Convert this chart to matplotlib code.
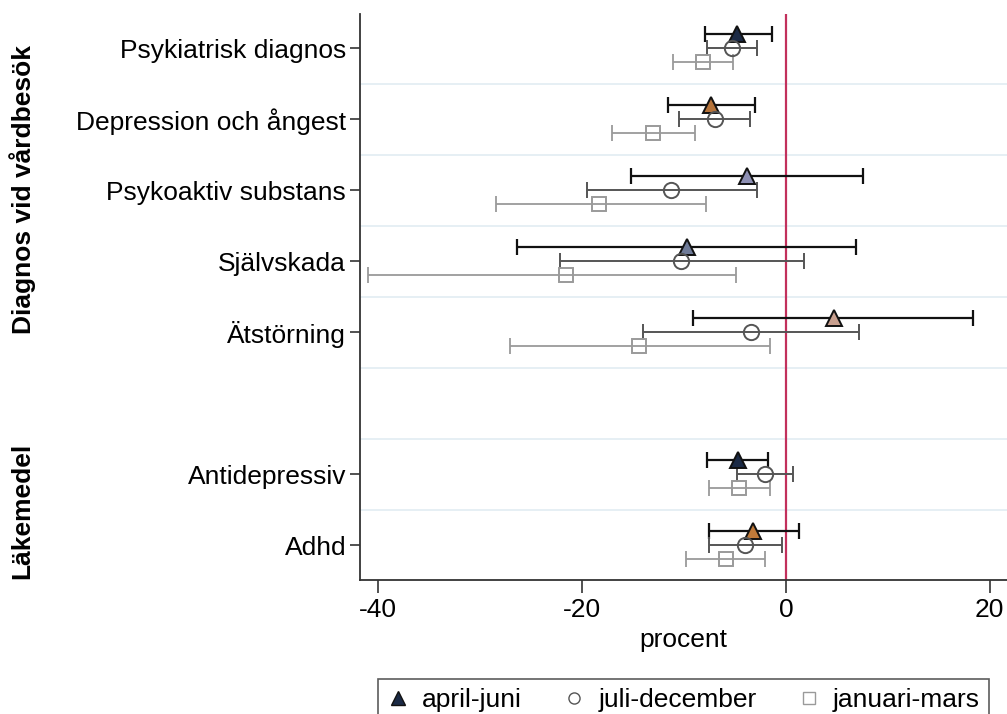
# -*- coding: utf-8 -*-
"""
Forest plot: change in percent per period for diagnoses and medication
"""
import numpy as np
import matplotlib
matplotlib.use("Agg")
import matplotlib.pyplot as plt

plt.rcParams['font.family'] = ['Liberation Sans', 'DejaVu Sans']
plt.rcParams['axes.unicode_minus'] = False

# categories, top to bottom ("" is the blank row between the groups)
categories = ["Psykiatrisk diagnos", "Depression och ångest", "Psykoaktiv substans",
              "Självskada", "Ätstörning", "", "Antidepressiv", "Adhd"]

# estimate, lower and upper limit per period (None = no row)
apr_est = [-4.8, -7.4, -3.8, -9.7, 4.7, None, -4.7, -3.2]
apr_lo = [-7.9, -11.6, -15.2, -26.4, -9.1, None, -7.7, -7.5]
apr_hi = [-1.4, -3.0, 7.6, 6.9, 18.4, None, -1.8, 1.3]

jul_est = [-5.3, -7.0, -11.3, -10.3, -3.4, None, -2.1, -4.0]
jul_lo = [-7.7, -10.5, -19.5, -22.2, -14.0, None, -4.8, -7.5]
jul_hi = [-2.8, -3.5, -2.8, 1.8, 7.2, None, 0.7, -0.4]

jan_est = [-8.1, -13.0, -18.3, -21.6, -14.4, None, -4.6, -5.9]
jan_lo = [-11.1, -17.1, -28.5, -41.0, -27.1, None, -7.5, -9.8]
jan_hi = [-5.2, -8.9, -7.8, -4.9, -1.6, None, -1.6, -2.1]

# triangle fill colours per row
tri_colors = ["#1b2a45", "#b5733a", "#8d8fb3", "#6f7b98", "#c9a08f", None, "#1b2a45", "#c07a3a"]

groups = ["Diagnos vid vårdbesök", "Läkemedel"]


def draw_series(ax, est, lo, hi, offset, color, lw, marker, ms, facecolors=None):
    for i, (e, l, h) in enumerate(zip(est, lo, hi)):
        if e is None:
            continue
        y = i + offset
        ax.errorbar(e, y, xerr=[[e - l], [h - e]], fmt="none", ecolor=color,
                    elinewidth=lw, capsize=6, capthick=lw, zorder=3)
        fc = facecolors[i] if facecolors else "none"
        ax.plot(e, y, marker=marker, ms=ms, mfc=fc, mec=color, mew=1.4,
                linestyle="none", zorder=4)


fig = plt.figure(figsize=(10.07, 7.14), dpi=100)
ax = fig.add_axes([0.3575, 0.1877, 0.6425, 0.7926])

ypos = np.arange(len(categories))

# light separators between rows
for b in ypos[:-1] + 0.5:
    ax.axhline(b, color="#e2ecf2", lw=1.2, zorder=0)

ax.axvline(0, color="#c2305c", lw=1.6, zorder=2)

draw_series(ax, apr_est, apr_lo, apr_hi, -0.2, "#111111", 1.6, "^", 11, tri_colors)
draw_series(ax, jul_est, jul_lo, jul_hi, 0.0, "#555555", 1.4, "o", 11)
draw_series(ax, jan_est, jan_lo, jan_hi, 0.2, "#9a9a9a", 1.3, "s", 10)

ax.set_xlim(-41.8, 21.7)
ax.set_ylim(7.49, -0.48)
ax.set_xticks([-40, -20, 0, 20])
ax.set_yticks([i for i, c in enumerate(categories) if c])
ax.set_yticklabels([c for c in categories if c])
ax.tick_params(axis="y", length=7, width=1.2, labelsize=19, pad=3, color="#333333")
ax.tick_params(axis="x", length=9, width=1.2, labelsize=19, pad=4, color="#333333")
ax.set_xlabel("procent", fontsize=19, labelpad=4)

for s in ["top", "right"]:
    ax.spines[s].set_visible(False)
for s in ["left", "bottom"]:
    ax.spines[s].set_linewidth(1.3)
    ax.spines[s].set_color("#333333")

# group titles on the left
fig.text(0.022, 1 - 190 / 714, groups[0], rotation=90, fontsize=19,
         fontweight="bold", ha="center", va="center")
fig.text(0.022, 1 - 511 / 714, groups[1], rotation=90, fontsize=19,
         fontweight="bold", ha="center", va="center")

# legend
h1 = plt.Line2D([], [], marker="^", color="none", mfc="#1b2a45", mec="#111111", ms=10)
h2 = plt.Line2D([], [], marker="o", color="none", mfc="none", mec="#555555", ms=8)
h3 = plt.Line2D([], [], marker="s", color="none", mfc="none", mec="#9a9a9a", ms=8)
leg = fig.legend([h1, h2, h3], ["april-juni", "juli-december", "januari-mars"],
                 loc="upper center", bbox_to_anchor=(0.679, 1 - 679 / 714), ncol=3,
                 fontsize=19, frameon=True, fancybox=False, edgecolor="#333333",
                 handlelength=0.8, handletextpad=0.5, columnspacing=1.6,
                 borderpad=0.35, borderaxespad=0)
leg.get_frame().set_linewidth(1.2)

fig.savefig("out.png", dpi=100)
